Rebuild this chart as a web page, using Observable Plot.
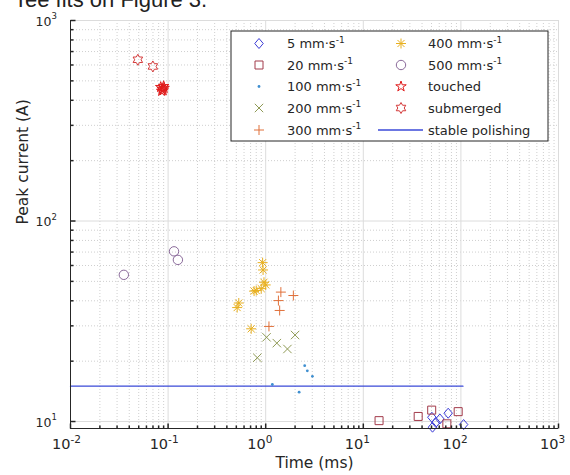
<!DOCTYPE html>
<html><head><meta charset="utf-8">
<script src="https://cdn.jsdelivr.net/npm/d3@7"></script>
<script src="https://cdn.jsdelivr.net/npm/@observablehq/plot@0.6"></script>
<style>
body{margin:0;background:#fff;}
#chart{position:relative;width:570px;height:475px;overflow:hidden;background:#fff}
</style>
</head><body><div id="chart"></div>
<script>
// ---------- data ----------
const x5   = [50.4, 51.2, 60.9, 74.1, 106.6, 55.4];
const y5   = [10.5, 9.37, 10.3, 11.0, 9.66, 9.9];
const x20  = [14.5, 36.5, 50.2, 93.8, 71.8];
const y20  = [10.1, 10.6, 11.4, 11.2, 9.74];
const x100 = [1.17, 2.2, 2.51, 2.67, 3.01];
const y100 = [15.3, 14.0, 19.0, 17.9, 16.8];
const x200 = [1.02, 2.0, 1.30, 1.67, 0.82];
const y200 = [26.3, 27.0, 24.6, 23.0, 20.8];
const x300 = [1.43, 1.92, 1.35, 1.39, 1.08];
const y300 = [44.2, 42.5, 40.1, 35.8, 29.8];
const x400 = [0.93, 0.94, 0.96, 1.0, 0.76, 0.80, 0.90, 0.53, 0.51, 0.71];
const y400 = [62, 57, 49.5, 48, 44.7, 45, 46, 39, 37, 29];
const x500 = [0.0352, 0.115, 0.126];
const y500 = [53.9, 70.6, 64.0];
const xTouched = [0.084, 0.087, 0.089, 0.091, 0.086, 0.090];
const yTouched = [465, 455, 448, 460, 445, 470];
const xSubmerged = [0.049, 0.0698];
const ySubmerged = [637, 590];
const xStable = [0.01, 105];
const yStable = [15, 15];

const seriesLabels = ["5 mm\u00b7s", "20 mm\u00b7s", "100 mm\u00b7s", "200 mm\u00b7s", "300 mm\u00b7s",
                      "400 mm\u00b7s", "500 mm\u00b7s", "touched", "submerged", "stable polishing"];
const unitExp = "-1";
const xTickExp = [-2, -1, 0, 1, 2, 3];
const yTickExp = [1, 2, 3];
const xLabel = "Time (ms)";
const yLabel = "Peak current (A)";
const headText = "Tee fits on Figure 3.";

// ---------- symbols ----------
const rad = s => Math.sqrt(s / Math.PI);
const diamondSym = {draw(c, s){const R = rad(s); c.moveTo(0,-R); c.lineTo(0.85*R,0); c.lineTo(0,R); c.lineTo(-0.85*R,0); c.closePath();}};
const squareSym  = {draw(c, s){const R = rad(s); c.moveTo(-R,-R); c.lineTo(R,-R); c.lineTo(R,R); c.lineTo(-R,R); c.closePath();}};
const circleSym  = {draw(c, s){const R = rad(s); c.moveTo(R,0); c.arc(0,0,R,0,2*Math.PI);}};
const timesSym   = {draw(c, s){const R = rad(s); c.moveTo(-R,-R); c.lineTo(R,R); c.moveTo(-R,R); c.lineTo(R,-R);}};
const plusSym    = {draw(c, s){const R = rad(s); c.moveTo(-R,0); c.lineTo(R,0); c.moveTo(0,-R); c.lineTo(0,R);}};
const asteriskSym= {draw(c, s){const R = rad(s), d = R*Math.SQRT1_2; c.moveTo(-R,0); c.lineTo(R,0); c.moveTo(0,-R); c.lineTo(0,R); c.moveTo(-d,-d); c.lineTo(d,d); c.moveTo(-d,d); c.lineTo(d,-d);}};
function starPath(points, ratio){
  return {draw(c, s){const R = rad(s), r = R*ratio; const n = points*2;
    for(let i=0;i<n;i++){const a = Math.PI*i/points - Math.PI/2; const rr = i%2 ? r : R;
      const px = rr*Math.cos(a), py = rr*Math.sin(a); i ? c.lineTo(px,py) : c.moveTo(px,py);} c.closePath();}};
}
const pentagramSym = starPath(5, 0.382);
const hexagramSym  = starPath(6, 1/Math.sqrt(3));
const tickUp    = {draw(c, s){const l = rad(s); c.moveTo(0,0); c.lineTo(0,-l);}};
const tickRight = {draw(c, s){const l = rad(s); c.moveTo(0,0); c.lineTo(l,0);}};

// ---------- series styles ----------
const series = [
  {x:x5,   y:y5,   label:seriesLabels[0], sym:diamondSym, r:5,   color:"#3b3bd6", unit:true},
  {x:x20,  y:y20,  label:seriesLabels[1], sym:squareSym,  r:4,   color:"#a23a4a", unit:true},
  {x:x100, y:y100, label:seriesLabels[2], sym:circleSym,  r:1.4, color:"#3f8fd0", unit:true, filled:true},
  {x:x200, y:y200, label:seriesLabels[3], sym:timesSym,   r:4.2, color:"#8f9a55", unit:true},
  {x:x300, y:y300, label:seriesLabels[4], sym:plusSym,    r:5,   color:"#e0703a", unit:true},
  {x:x400, y:y400, label:seriesLabels[5], sym:asteriskSym,r:5,   color:"#e8b020", unit:true},
  {x:x500, y:y500, label:seriesLabels[6], sym:circleSym,  r:4.7, color:"#8a6a9a", unit:true},
  {x:xTouched,   y:yTouched,   label:seriesLabels[7], sym:pentagramSym, r:5.5, color:"#e01b1b"},
  {x:xSubmerged, y:ySubmerged, label:seriesLabels[8], sym:hexagramSym,  r:5.5, color:"#d43a3a"}
];
const stableColor = "#3b4ad8";

const xDomain = [0.01, 1000];
const yDomain = [9.23, 1000];
const xMajor = xTickExp.map(e => 10 ** e);
const yMajor = yTickExp.map(e => 10 ** e);
const xMinor = xTickExp.slice(0, -1).flatMap(e => d3.range(2, 10).map(m => m * 10 ** e));
const yMinor = [1, 2].flatMap(e => d3.range(2, 10).map(m => m * 10 ** e));
const axisColor = "#262626";

const dotMarks = series.map(s => Plot.dot(s.x.map((v, i) => ({x: v, y: s.y[i]})), {
  x: "x", y: "y", symbol: s.sym, r: s.r,
  fill: s.filled ? s.color : "none", stroke: s.filled ? "none" : s.color, strokeWidth: 1
}));

const svg = Plot.plot({
  width: 570, height: 475,
  marginLeft: 70, marginRight: 12, marginTop: 20, marginBottom: 47,
  x: {type: "log", domain: xDomain, axis: null},
  y: {type: "log", domain: yDomain, axis: null},
  style: {fontFamily: "'DejaVu Sans'", background: "white", color: axisColor, overflow: "visible"},
  marks: [
    Plot.ruleX(xMinor, {stroke: "#cfcfcf", strokeDasharray: "1,2"}),
    Plot.ruleY(yMinor, {stroke: "#cfcfcf", strokeDasharray: "1,2"}),
    Plot.ruleX(xMajor, {stroke: "#dcdcdc"}),
    Plot.ruleY(yMajor, {stroke: "#dcdcdc"}),
    Plot.line(xStable.map((v, i) => ({x: v, y: yStable[i]})), {x: "x", y: "y", stroke: stableColor, strokeWidth: 1.3}),
    ...dotMarks,
    Plot.ruleX([xDomain[0]], {stroke: axisColor, strokeWidth: 1}),
    Plot.ruleY([yDomain[0]], {stroke: axisColor, strokeWidth: 1}),
    Plot.dot(xMajor, {x: d => d, frameAnchor: "bottom", symbol: tickUp, r: 5, fill: "none", stroke: axisColor}),
    Plot.dot(xMinor, {x: d => d, frameAnchor: "bottom", symbol: tickUp, r: 3, fill: "none", stroke: axisColor}),
    Plot.dot(yMajor, {y: d => d, frameAnchor: "left", symbol: tickRight, r: 5, fill: "none", stroke: axisColor}),
    Plot.dot(yMinor, {y: d => d, frameAnchor: "left", symbol: tickRight, r: 3, fill: "none", stroke: axisColor}),
    Plot.text(xTickExp, {x: e => 10 ** e, frameAnchor: "bottom", text: () => "10", textAnchor: "end", dy: 20, fontSize: 14.5, fill: axisColor}),
    Plot.text(xTickExp, {x: e => 10 ** e, frameAnchor: "bottom", text: e => String(e), textAnchor: "start", dy: 14, fontSize: 10.5, fill: axisColor}),
    Plot.text(yTickExp, {y: e => 10 ** e, frameAnchor: "left", text: () => "10", textAnchor: "end", dx: -19, dy: 1, fontSize: 12.5, fill: axisColor}),
    Plot.text(yTickExp, {y: e => 10 ** e, frameAnchor: "left", text: e => String(e), textAnchor: "start", dx: -19, dy: -4, fontSize: 8.5, fill: axisColor}),
    Plot.text([xLabel], {frameAnchor: "bottom", text: d => d, dy: 39, fontSize: 15.5, fill: axisColor}),
    Plot.text([yLabel], {frameAnchor: "left", text: d => d, rotate: -90, dx: -47, fontSize: 15.5, fill: axisColor})
  ]
});

// ---------- legend & clipped heading ----------
const g = d3.select(svg).append("g").attr("font-family", "'DejaVu Sans'").attr("fill", axisColor)
  .attr("text-anchor", "start");
g.append("rect").attr("x", 231).attr("y", 31).attr("width", 317).attr("height", 110)
  .attr("fill", "white").attr("stroke", axisColor).attr("stroke-width", 1);
const rowY = [43.5, 65, 86.5, 108, 130];
const entries = series.map((s, i) => ({...s, col: i < 5 ? 0 : 1, row: i % 5}));
entries.push({label: seriesLabels[9], line: true, col: 1, row: 4});
const colMarkX = [259, 401], colTextX = [287, 428];
entries.forEach(e => {
  const cy = rowY[e.row];
  if (e.line) {
    g.append("line").attr("x1", 378).attr("x2", 423).attr("y1", cy).attr("y2", cy)
      .attr("stroke", stableColor).attr("stroke-width", 1.3);
  } else {
    g.append("path").attr("transform", `translate(${colMarkX[e.col]},${cy})`)
      .attr("d", d3.symbol(e.sym, Math.PI * e.r * e.r)())
      .attr("fill", e.filled ? e.color : "none").attr("stroke", e.filled ? "none" : e.color).attr("stroke-width", 1);
  }
  const t = g.append("text").attr("x", colTextX[e.col]).attr("y", cy + 4.7).attr("font-size", 13)
    .attr("text-anchor", "start").text(e.label);
  if (e.unit) t.append("tspan").attr("dy", -5.5).attr("font-size", 9).text(unitExp);
});
d3.select(svg).append("text").attr("x", 14).attr("y", 7).attr("font-family", "'Liberation Sans'")
  .attr("text-anchor", "start").attr("font-size", 22).attr("fill", "#222").text(headText);

document.getElementById("chart").appendChild(svg);
</script>
</body></html>
